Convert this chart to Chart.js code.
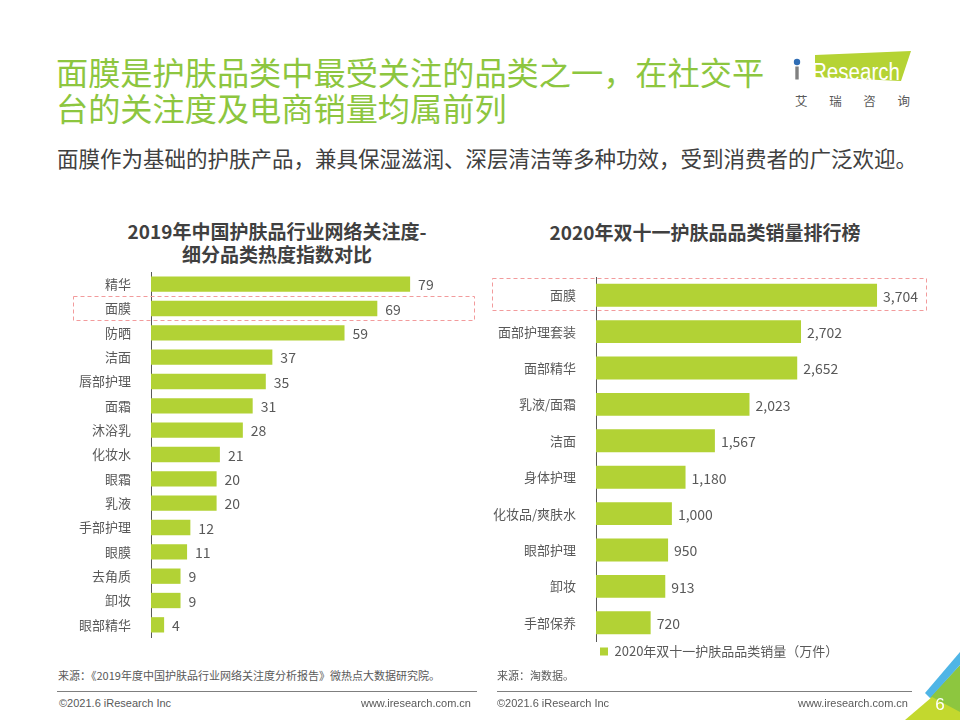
<!DOCTYPE html>
<html><head><meta charset="utf-8">
<script src="https://cdn.jsdelivr.net/npm/chart.js@4.4.1/dist/chart.umd.min.js"></script>
<style>
html,body{margin:0;padding:0;background:#fff;}
#page{position:relative;width:960px;height:720px;overflow:hidden;background:#fff;font-family:"Noto Sans CJK SC","Noto Sans",sans-serif;}
.abs{position:absolute;white-space:nowrap;}
.title{left:56px;top:53px;font-size:32.2px;line-height:36px;color:#8DC63F;}
.sub{left:57px;top:146px;font-size:21.5px;line-height:24px;color:#404040;}
.ctitle{font-weight:bold;font-size:19px;line-height:23px;color:#404040;text-align:center;width:340px;}
.src{top:668px;font-size:11px;line-height:14px;color:#595959;}
.foot{top:696px;font-size:11px;line-height:14px;color:#595959;font-family:"Liberation Sans","DejaVu Sans",sans-serif;}
.rule{top:691px;height:0;border-top:1px solid #7f7f7f;}
canvas{position:absolute;}
</style></head><body>
<div id="page">
  <div class="abs title">面膜是护肤品类中最受关注的品类之一，在社交平<br>台的关注度及电商销量均属前列</div>
  <div class="abs sub">面膜作为基础的护肤产品，兼具保湿滋润、深层清洁等多种功效，受到消费者的广泛欢迎。</div>

  <svg class="abs" style="left:780px;top:40px" width="180" height="80" viewBox="0 0 180 80">
    <polygon points="35,15 131,11 121,41 35,37" fill="#B5D334"/>
    <circle cx="17" cy="22" r="3.2" fill="#2F6DB5"/>
    <rect x="15.3" y="26.5" width="3.4" height="13" fill="#808080"/>
    <text x="32" y="39.5" font-family="Liberation Sans, Arial, sans-serif" font-size="23" fill="#fff" textLength="88" lengthAdjust="spacingAndGlyphs">Research</text>
    <text x="15" y="66" font-family="Noto Sans CJK SC, sans-serif" font-size="12.5" fill="#595959" textLength="115" lengthAdjust="spacing">艾瑞咨询</text>
  </svg>

  <div class="abs ctitle" style="left:107px;top:219px;">2019年中国护肤品行业网络关注度-<br>细分品类热度指数对比</div>
  <div class="abs ctitle" style="left:535px;top:220px;">2020年双十一护肤品品类销量排行榜</div>

  <canvas id="c1" width="420" height="370" style="left:60px;top:270px;"></canvas>
  <canvas id="c2" width="450" height="398" style="left:485px;top:270px;"></canvas>

  <div class="abs src" style="left:58px;">来源：《2019年度中国护肤品行业网络关注度分析报告》微热点大数据研究院。</div>
  <div class="abs src" style="left:497px;">来源：淘数据。</div>
  <div class="abs rule" style="left:57px;width:420px;"></div>
  <div class="abs rule" style="left:497px;width:415px;"></div>
  <div class="abs foot" style="left:59px;">©2021.6 iResearch Inc</div>
  <div class="abs foot" style="left:351px;width:120px;text-align:right;">www.iresearch.com.cn</div>
  <div class="abs foot" style="left:497px;">©2021.6 iResearch Inc</div>
  <div class="abs foot" style="left:788px;width:120px;text-align:right;">www.iresearch.com.cn</div>

  <svg class="abs" style="left:880px;top:640px" width="80" height="80" viewBox="0 0 80 80">
    <polygon points="50,57 80,25 80,80 62,80" fill="#8DC63F"/>
    <polygon points="25,80 52,57 80,72 80,80" fill="#C3D82E"/>
    <polygon points="45,53 80,12 80,25 50,58" fill="#4FB5E6"/>
    <text x="60" y="70" font-family="Liberation Sans, Arial, sans-serif" font-size="17" fill="#fff" text-anchor="middle">6</text>
  </svg>
</div>
<script>
// ---- data ----
const heatCategories = ['精华','面膜','防晒','洁面','唇部护理','面霜','沐浴乳','化妆水','眼霜','乳液','手部护理','眼膜','去角质','卸妆','眼部精华'];
const heatValues = [79,69,59,37,35,31,28,21,20,20,12,11,9,9,4];
const salesCategories = ['面膜','面部护理套装','面部精华','乳液/面霜','洁面','身体护理','化妆品/爽肤水','眼部护理','卸妆','手部保养'];
const salesValues = [3704,2702,2652,2023,1567,1180,1000,950,913,720];
const salesSeriesName = '2020年双十一护肤品品类销量（万件）';
const highlightHeat = 1;   // 面膜
const highlightSales = 0;  // 面膜

const FONT = '"Noto Sans CJK SC","Noto Sans",sans-serif';
const BAR = '#B2D235';
const TXT = '#595959';

const valueLabels = {
  id: 'valueLabels',
  afterDatasetsDraw(chart, args, o) {
    const ctx = chart.ctx;
    const meta = chart.getDatasetMeta(0);
    const data = chart.data.datasets[0].data;
    ctx.save();
    ctx.font = '14px ' + FONT;
    ctx.fillStyle = TXT;
    ctx.textBaseline = 'middle';
    ctx.textAlign = 'left';
    meta.data.forEach((bar, i) => {
      const v = data[i];
      const s = o.comma ? v.toLocaleString('en-US') : String(v);
      ctx.fillText(s, bar.x + o.offset, bar.y + 1);
    });
    ctx.restore();
  }
};
const highlightBox = {
  id: 'highlightBox',
  afterDraw(chart, args, o) {
    const ctx = chart.ctx;
    const y = chart.scales.y.getPixelForValue(o.index);
    ctx.save();
    ctx.setLineDash([4, 3]);
    ctx.strokeStyle = '#F29B9C';
    ctx.lineWidth = 1;
    ctx.strokeRect(o.left + 0.5, Math.round(y - o.above) + 0.5, chart.width - o.right - o.left, o.above + o.below);
    ctx.restore();
  }
};

function makeChart(id, cats, vals, opt) {
  return new Chart(document.getElementById(id), {
    type: 'bar',
    data: {
      labels: cats,
      datasets: [{
        label: opt.name || '',
        data: vals,
        backgroundColor: BAR,
        borderWidth: 0,
        categoryPercentage: 1,
        barPercentage: 0.63
      }]
    },
    options: {
      indexAxis: 'y',
      responsive: false,
      animation: false,
      layout: { padding: opt.padding },
      scales: {
        x: { display: false, min: 0, max: opt.max },
        y: {
          grid: { display: false },
          border: { display: true, color: '#595959', width: 1 },
          ticks: { color: TXT, font: { family: FONT, size: 13 }, padding: 12 },
          afterFit: s => { s.width = opt.axisWidth; s.paddingTop = 0; s.paddingBottom = 0; }
        }
      },
      plugins: {
        tooltip: { enabled: false },
        legend: opt.legend ? {
          display: true, position: 'bottom', align: 'start', fullSize: false,
          labels: { boxWidth: 8, boxHeight: 8, padding: 4, color: TXT, font: { family: FONT, size: 13 } }
        } : { display: false },
        valueLabels: { offset: opt.offset, comma: opt.comma },
        highlightBox: opt.hl
      }
    },
    plugins: [valueLabels, highlightBox]
  });
}

makeChart('c1', heatCategories, heatValues, {
  max: 100, axisWidth: 91, offset: 8, comma: false,
  padding: { top: 2, bottom: 3, left: 0, right: 1 },
  hl: { index: highlightHeat, left: 13, right: 6, above: 12.5, below: 11.5 }
});
makeChart('c2', salesCategories, salesValues, {
  name: salesSeriesName, legend: true,
  max: 4000, axisWidth: 111, offset: 6, comma: true,
  padding: { top: 7, bottom: 0, left: 0, right: 35.5 },
  hl: { index: highlightSales, left: 7, right: 9, above: 17, below: 15 }
});
</script>
</body></html>
